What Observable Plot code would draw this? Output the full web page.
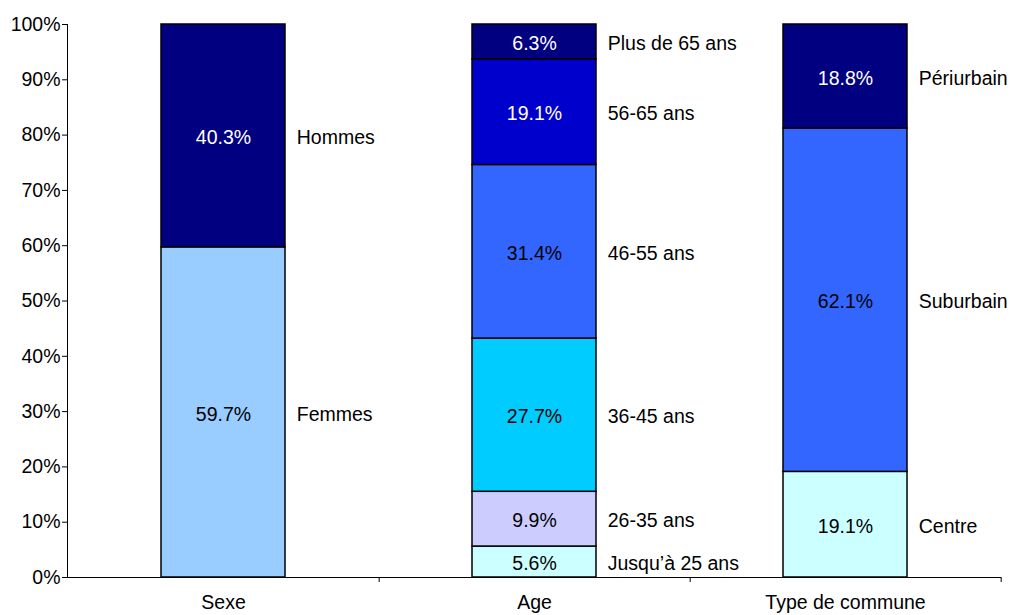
<!DOCTYPE html>
<html>
<head>
<meta charset="utf-8">
<script src="https://cdn.jsdelivr.net/npm/d3@7"></script>
<script src="https://cdn.jsdelivr.net/npm/@observablehq/plot@0.6"></script>
<style>
  html, body { margin: 0; padding: 0; background: #fff; }
</style>
</head>
<body>
<div id="chart"></div>
<script>
const groups = ["Sexe", "Age", "Type de commune"];

// bottom-to-top order in each stack
const segGroup = ["Sexe", "Sexe",
  "Age", "Age", "Age", "Age", "Age", "Age",
  "Type de commune", "Type de commune", "Type de commune"];
const segLabel = ["Femmes", "Hommes",
  "Jusqu’à 25 ans", "26-35 ans", "36-45 ans", "46-55 ans", "56-65 ans", "Plus de 65 ans",
  "Centre", "Suburbain", "Périurbain"];
const segValue = [59.7, 40.3,
  5.6, 9.9, 27.7, 31.4, 19.1, 6.3,
  19.1, 62.1, 18.8];
const segColor = ["#99ccff", "#000080",
  "#ccffff", "#ccccff", "#00ccff", "#3366ff", "#0000cc", "#000080",
  "#ccffff", "#3366ff", "#000080"];
const segTextColor = ["#000", "#fff",
  "#000", "#000", "#000", "#000", "#fff", "#fff",
  "#000", "#000", "#fff"];

const yTicks = [0, 10, 20, 30, 40, 50, 60, 70, 80, 90, 100];

const data = segGroup.map((g, i) => ({
  group: g, label: segLabel[i], value: segValue[i],
  color: segColor[i], textColor: segTextColor[i]
}));

const W = 1010, H = 615;
const mL = 67, mR = 9, mT = 24, mB = 38;
const paddingInner = 0.6, paddingOuter = 0.3;
const step = (W - mL - mR) / (groups.length - paddingInner + 2 * paddingOuter);
const bw = step * (1 - paddingInner);
const font = "'Liberation Sans', Arial, sans-serif";
const fs = 19.5;

const chart = Plot.plot({
  width: W,
  height: H,
  marginLeft: mL,
  marginRight: mR,
  marginTop: mT,
  marginBottom: mB,
  style: { fontFamily: font, fontSize: fs + "px", background: "#fff", color: "#000", overflow: "visible" },
  x: { domain: groups, paddingInner, paddingOuter, align: 0.5, label: null },
  y: { domain: [0, 100], label: null },
  marks: [
    Plot.barY(data, {
      x: "group", y: "value", fill: "color",
      stroke: "#000", strokeWidth: 1.5
    }),
    Plot.text(data, Plot.stackY({
      x: "group", y: "value", text: d => d.value.toFixed(1) + "%",
      fill: "textColor", fontSize: fs, dy: 2
    })),
    Plot.text(data, Plot.stackY({
      x: "group", y: "value", text: "label",
      fill: "#000", fontSize: fs, textAnchor: "start", dx: bw / 2 + 11, dy: 2
    })),
    Plot.frame({ anchor: "left", stroke: "#000", strokeWidth: 1 }),
    Plot.ruleY([0], { stroke: "#000", strokeWidth: 1 }),
    Plot.axisY({
      ticks: yTicks, tickFormat: d => d + "%", tickSize: 5, tickPadding: 2,
      fontSize: fs, label: null, stroke: "#000"
    }),
    Plot.axisX({
      ticks: groups, tickSize: 5, tickFormat: () => "", dx: step / 2, label: null, stroke: "#000"
    }),
    Plot.axisX({
      ticks: groups, tickSize: 0, tickPadding: 18, fontSize: fs, label: null
    })
  ]
});

document.getElementById("chart").appendChild(chart);
</script>
</body>
</html>
